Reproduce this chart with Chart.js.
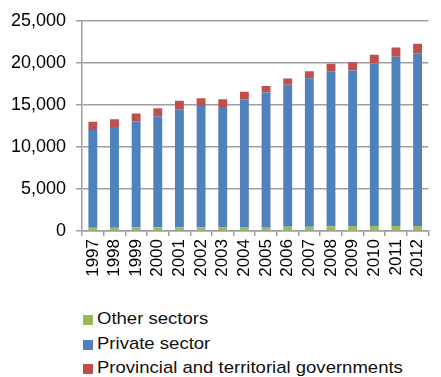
<!DOCTYPE html>
<html>
<head>
<meta charset="utf-8">
<script src="https://cdn.jsdelivr.net/npm/chart.js@4.4.1/dist/chart.umd.min.js"></script>
<style>
  body { margin: 0; background: #fff; font-family: "Liberation Sans", Arial, sans-serif; }
  #wrap { position: relative; width: 441px; height: 377px; overflow: hidden; }
  #legend { position: absolute; left: 83px; top: 307px; margin: 0; padding: 0; list-style: none; }
  #legend li { height: 24.7px; line-height: 24px; font-size: 17px; color: #111; white-space: nowrap; }
  #legend span { display: inline-block; width: 10px; height: 10px; margin-right: 4px; vertical-align: -1px; }
  #legend em { display: inline-block; font-style: normal; transform: scaleX(1.09); transform-origin: left center; }
</style>
</head>
<body>
<div id="wrap">
  <canvas id="myChart" width="441" height="300"></canvas>
  <ul id="legend"></ul>
</div>
<script>
const years = ['1997', '1998', '1999', '2000', '2001', '2002', '2003', '2004',
               '2005', '2006', '2007', '2008', '2009', '2010', '2011', '2012'];
const otherSectors = [380, 380, 420, 450, 450, 450, 450, 470, 480, 500, 520, 560, 580, 580, 600, 600];
const privateSector = [11620, 12000, 12590, 13200, 14030, 14430, 14310, 15200,
                       15990, 16880, 17650, 18440, 18500, 19380, 20110, 20550];
const provincialGov = [1000, 920, 950, 950, 1000, 920, 910, 880, 790, 760, 830, 900, 1000, 990, 1120, 1110];
const yTicks = [0, 5000, 10000, 15000, 20000, 25000];

const family = '"Liberation Sans", Arial, sans-serif';
const gridColor = '#9f9f9f';

const chart = new Chart(document.getElementById('myChart'), {
    type: 'bar',
    data: {
        labels: years,
        datasets: [
            { label: 'Other sectors', data: otherSectors, backgroundColor: '#9bbb59' },
            { label: 'Private sector', data: privateSector, backgroundColor: '#4f81bd' },
            { label: 'Provincial and territorial governments', data: provincialGov, backgroundColor: '#c0504d' }
        ]
    },
    options: {
        responsive: false,
        animation: false,
        layout: { padding: { top: 11, right: 0, left: 0, bottom: 0 } },
        datasets: { bar: { barPercentage: 0.41, categoryPercentage: 1 } },
        plugins: { legend: { display: false }, tooltip: { enabled: false } },
        scales: {
            x: {
                stacked: true,
                grid: { drawOnChartArea: false, drawTicks: true, tickLength: 5, color: gridColor, lineWidth: 1.5, offset: true },
                border: { color: gridColor, width: 1.5 },
                ticks: { color: '#000', font: { family: family, size: 17 }, minRotation: 90, maxRotation: 90, padding: 3, autoSkip: false },
                afterFit: (scale) => { scale.height = 69; }
            },
            y: {
                stacked: true,
                min: 0,
                max: 25000,
                afterBuildTicks: (scale) => { scale.ticks = yTicks.map(v => ({ value: v })); },
                grid: { color: gridColor, lineWidth: 1.5, tickLength: 6 },
                border: { color: gridColor, width: 1.5 },
                ticks: {
                    color: '#000', font: { family: family, size: 18 }, padding: 10,
                    callback: (v) => v.toLocaleString('en-US')
                },
                afterFit: (scale) => { scale.width = 82; }
            }
        }
    }
});

// legend list under the chart, one entry per line
const legend = document.getElementById('legend');
chart.data.datasets.forEach(ds => {
    const li = document.createElement('li');
    const box = document.createElement('span');
    box.style.background = ds.backgroundColor;
    const text = document.createElement('em');
    text.textContent = ds.label;
    li.appendChild(box);
    li.appendChild(text);
    legend.appendChild(li);
});
</script>
</body>
</html>
